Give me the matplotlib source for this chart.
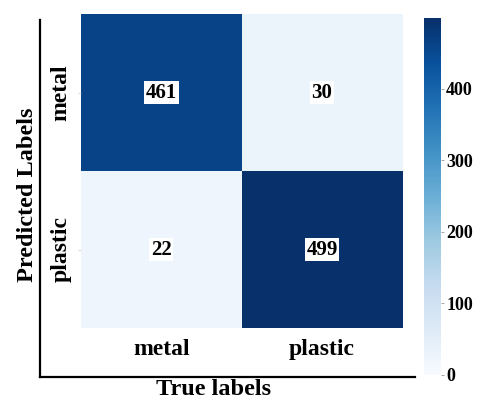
import matplotlib
matplotlib.use("Agg")
import matplotlib.pyplot as plt
import numpy as np

# Confusion matrix counts (rows: predicted, columns: true)
class_names = ["metal", "plastic"]
counts = [[461, 30],
          [22, 499]]
cbar_ticks = [0, 100, 200, 300, 400]

plt.rcParams["font.family"] = ["Liberation Serif", "DejaVu Serif"]
plt.rcParams["font.weight"] = "bold"

data = np.array(counts)
fig = plt.figure(figsize=(4.8, 4.01), dpi=100)

# Frame axes carrying only the left and bottom spines
frame = fig.add_axes([0.083, 0.060, 0.781, 0.890])
frame.set_xticks([])
frame.set_yticks([])
for side in ("top", "right"):
    frame.spines[side].set_visible(False)
for side in ("left", "bottom"):
    frame.spines[side].set_linewidth(1.6)
frame.patch.set_alpha(0)

ax = fig.add_axes([0.169, 0.182, 0.669, 0.783])
im = ax.imshow(data, cmap="Blues", vmin=0, vmax=data.max(), aspect="auto")
for s in ax.spines.values():
    s.set_visible(False)

for i in range(data.shape[0]):
    for j in range(data.shape[1]):
        ax.text(j, i, str(data[i, j]), ha="center", va="center",
                fontsize=15, fontweight="bold", color="black",
                bbox=dict(facecolor="white", edgecolor="none", pad=1.2))

ax.set_xticks(range(len(class_names)))
ax.set_xticklabels(class_names, fontsize=17, fontweight="bold")
ax.set_yticks(range(len(class_names)))
ax.set_yticklabels(class_names, fontsize=17, fontweight="bold",
                   rotation=90, va="center")
ax.tick_params(axis="x", length=0, pad=8)
ax.tick_params(axis="y", length=2, width=0.5, color="#cccccc", pad=5)

fig.text(0.057, 0.515, "Predicted Labels", rotation=90, ha="center",
         va="center", fontsize=17.5, fontweight="bold")
fig.text(0.444, 0.028, "True labels", ha="center", va="center",
         fontsize=17.5, fontweight="bold")

cax = fig.add_axes([0.883, 0.065, 0.035, 0.890])
cb = fig.colorbar(im, cax=cax, ticks=cbar_ticks)
cb.outline.set_visible(False)
cax.tick_params(length=2, width=0.6, color="#999999", labelsize=13, pad=2)
for lbl in cax.get_yticklabels():
    lbl.set_fontweight("bold")

fig.savefig("out.png", dpi=100)
